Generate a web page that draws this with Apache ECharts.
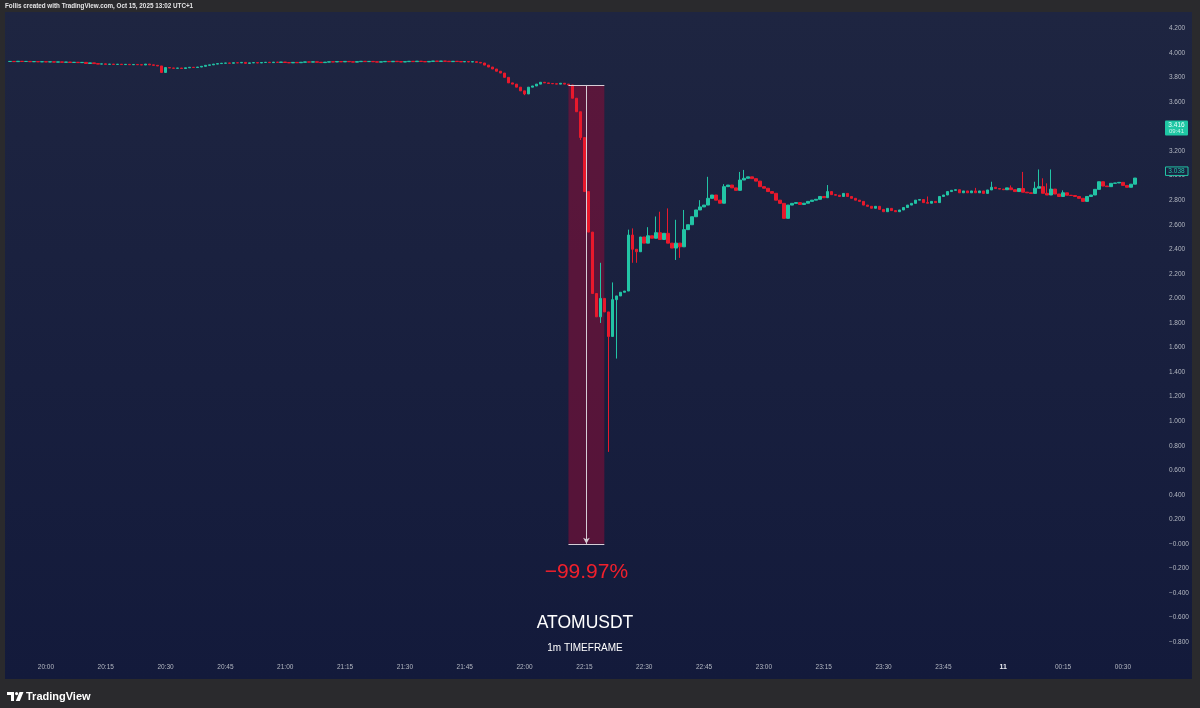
<!DOCTYPE html>
<html><head><meta charset="utf-8">
<script src="https://cdn.jsdelivr.net/npm/echarts@6/dist/echarts.min.js"></script>
<style>
html,body{margin:0;padding:0;background:#2a2a2d;overflow:hidden;}
#wrap{position:relative;width:1200px;height:708px;background:#2a2a2d;}
#panel{position:absolute;left:5px;top:12px;width:1187px;height:667px;background:linear-gradient(180deg,#1e2541 0%,#181f3e 55%,#131a3b 100%);}
#c{position:absolute;left:0;top:0;width:1200px;height:708px;}
</style>
</head><body><div id="wrap"><div id="panel"></div><div id="c"></div></div>
<script>
// ---- data (ATOMUSDT, 1m candles, first candle 19:51) ----
const startTime = "19:51";
const firstOpen = 3.929;
const closes = [
3.930,3.928,3.931,3.929,3.930,3.927,3.929,3.926,3.928,3.925,
3.927,3.924,3.926,3.923,3.925,3.921,3.923,3.920,3.922,3.913,
3.918,3.912,3.908,3.910,3.906,3.908,3.905,3.907,3.904,3.906,
3.903,3.905,3.903,3.901,3.908,3.902,3.898,3.893,3.840,3.880,
3.876,3.874,3.876,3.872,3.878,3.882,3.880,3.884,3.890,3.898,
3.902,3.908,3.912,3.915,3.917,3.915,3.919,3.918,3.922,3.914,
3.918,3.920,3.917,3.921,3.923,3.920,3.924,3.922,3.925,3.921,
3.918,3.922,3.919,3.923,3.926,3.924,3.927,3.923,3.920,3.924,
3.927,3.925,3.929,3.926,3.930,3.927,3.924,3.928,3.931,3.928,
3.930,3.927,3.924,3.927,3.930,3.927,3.931,3.928,3.925,3.928,
3.931,3.928,3.932,3.929,3.926,3.930,3.933,3.930,3.933,3.931,
3.928,3.931,3.929,3.926,3.929,3.925,3.928,3.922,
3.917,3.900,3.884,3.868,3.850,3.835,3.800,3.755,3.745,3.720,3.690,3.665,
3.720,3.730,3.745,3.760,3.755,3.750,3.748,3.745,3.752,3.745,3.738,
3.630,3.520,3.310,2.870,2.540,2.040,1.850,2.000,1.890,1.690,1.990,2.020,2.050,2.060,
2.516,2.400,2.380,2.500,2.450,2.510,2.490,2.535,2.480,2.530,
2.450,2.410,2.450,2.420,2.560,2.600,2.665,2.720,2.745,2.760,
2.815,2.842,2.800,2.775,2.910,2.923,2.900,2.880,2.964,2.978,
2.990,2.975,2.955,2.910,2.897,2.870,2.856,2.800,2.774,2.652,
2.760,2.774,2.780,2.765,2.775,2.790,2.800,2.807,2.830,2.820,
2.870,2.845,2.840,2.830,2.855,2.830,2.815,2.800,2.790,2.760,
2.750,2.734,2.750,2.725,2.706,2.733,2.715,2.706,2.720,2.740,
2.760,2.774,2.800,2.805,2.780,2.775,2.790,2.780,2.830,2.842,
2.870,2.880,2.885,2.860,2.875,2.860,2.875,2.860,2.875,2.855,
2.883,2.905,2.895,2.890,2.885,2.900,2.885,2.870,2.895,2.865,
2.860,2.855,2.897,2.910,2.856,2.842,2.890,2.850,2.830,2.860,
2.840,2.838,2.830,2.815,2.790,2.830,2.842,2.888,2.950,2.915,
2.910,2.937,2.940,2.945,2.920,2.905,2.930,2.980
];
// [candle index, wick extreme]
const upperWicks = [[148,2.29],[151,2.13],[155,2.56],[156,2.57],[160,2.58],[162,2.667],[163,2.706],[165,2.733],[167,2.64],[169,2.72],[173,2.80],[175,2.99],[179,2.93],[183,3.03],[184,3.046],[205,2.923],[230,2.83],[242,2.90],[246,2.95],[251,2.92],[254,3.03],[257,2.95],[258,3.05],[259,2.978],[260,2.937],[261,3.05],[264,2.88]];
const lowerWicks = [[38,3.835],[129,3.655],[143,3.29],[148,1.80],[150,0.75],[152,1.51],[156,2.29],[157,2.29],[167,2.313],[168,2.33]];
// price-range drawing: from candle 22:11 to 22:20, 3.738 -> 0.0011
const rangeStartIdx = 140, rangeEndIdx = 149, rangeTop = 3.738, rangeBottom = 0.0011;
const rangeText = "−99.97%";
const lastPrice = 3.038;
const markPrice = 3.416, markSub = "09:41";
const yTicks = {min:-1.0, max:4.4, step:0.2, shownMin:-0.8, shownMax:4.2};

// ---- build ----
const N = closes.length + 1;
const [sh, sm] = startTime.split(':').map(Number);
const categories = [];
for (let i = 0; i < N; i++) {
  const t = (sh*60 + sm + i) % 1440;
  categories.push(String(Math.floor(t/60)).padStart(2,'0') + ':' + String(t%60).padStart(2,'0'));
}
const up = {}, lo = {};
upperWicks.forEach(([i,v]) => up[i] = v);
lowerWicks.forEach(([i,v]) => lo[i] = v);
const candles = closes.map((c, i) => {
  const o = i === 0 ? firstOpen : closes[i-1];
  let h = Math.max(o, c), l = Math.min(o, c);
  if (up[i] != null) h = Math.max(h, up[i]);
  if (lo[i] != null) l = Math.min(l, lo[i]);
  return [o, c, l, h];
});

const pxPerUnit = 122.8, zeroY = 544;
const gridTop = zeroY - yTicks.max * pxPerUnit;
const gridH = (yTicks.max - yTicks.min) * pxPerUnit;
const bandW = 3.989;
const gridLeft = 8;
const gridW = N * bandW;

const UP = '#22c4a5', DOWN = '#e8192c';
const chart = echarts.init(document.getElementById('c'), null, {renderer:'canvas'});
const fmtPrice = v => {
  if (v > yTicks.shownMax + 1e-6 || v < yTicks.shownMin - 1e-6) return '';
  const r = Math.round(v*1000)/1000;
  if (r <= 0) return '−' + Math.abs(r).toFixed(3);
  return r.toFixed(3);
};
chart.setOption({
  backgroundColor: 'transparent',
  animation: false,
  grid: {left: gridLeft, top: gridTop, width: gridW, height: gridH, containLabel: false},
  xAxis: [{
    type: 'category', data: categories, boundaryGap: true,
    axisLine: {show:false}, axisTick: {show:false}, splitLine: {show:false},
    axisLabel: {
      margin: -3, color: '#b4b8c2', fontSize: 6.5, fontFamily: 'Liberation Sans, Arial, sans-serif',
      interval: (idx, val) => { const p = val.split(':'); return p.length === 2 && (+p[1]) % 15 === 0; },
      formatter: v => v === '00:00' ? '{d|11}' : v,
      rich: {d: {fontWeight: 'bold', color: '#e8eaf0', fontSize: 7, fontFamily: 'Liberation Sans, Arial, sans-serif'}}
    }
  }, {
    type: 'value', min: -0.5, max: N - 0.5, show: false
  }],
  yAxis: [{
    type: 'value', position: 'right', min: yTicks.min, max: yTicks.max, interval: yTicks.step,
    axisLine: {show:false}, axisTick: {show:false}, splitLine: {show:false},
    axisLabel: {margin: 28, color: '#b4b8c2', fontSize: 6.5, fontFamily: 'Liberation Sans, Arial, sans-serif', formatter: fmtPrice}
  }],
  series: [{
    type: 'candlestick', data: candles, xAxisIndex: 0, yAxisIndex: 0, barWidth: 3, z: 2,
    itemStyle: {color: UP, color0: DOWN, borderColor: UP, borderColor0: DOWN, borderWidth: 1}
  }, {
    type: 'line', xAxisIndex: 1, yAxisIndex: 0, data: [], symbol: 'none', z: 3, silent: true,
    markArea: {silent: true, itemStyle: {color: 'rgba(140,12,55,0.55)'},
      data: [[{coord: [rangeStartIdx, rangeTop]}, {coord: [rangeEndIdx, rangeBottom]}]]},
    markLine: {silent: true, symbol: ['none','none'], label: {show:false},
      lineStyle: {color: '#d6cdd6', width: 1, type: 'solid'},
      data: [
        [{coord: [rangeStartIdx, rangeTop]}, {coord: [rangeEndIdx, rangeTop]}],
        [{coord: [rangeStartIdx, rangeBottom]}, {coord: [rangeEndIdx, rangeBottom]}],
        [{coord: [(rangeStartIdx+rangeEndIdx)/2, rangeTop]}, {coord: [(rangeStartIdx+rangeEndIdx)/2, rangeBottom], symbol: 'arrow', symbolSize: [5,6]}]
      ]},
    markPoint: {silent: true, symbol: 'circle', symbolSize: 0,
      data: [{coord: [(rangeStartIdx+rangeEndIdx)/2, rangeBottom - 0.23],
        label: {show: true, position: 'inside', formatter: rangeText, color: '#f0202c', fontSize: 21, fontFamily: 'Liberation Sans, Arial, sans-serif'}}]}
  }]
});

const pyMark = chart.convertToPixel({yAxisIndex: 0}, markPrice);
const pyLast = chart.convertToPixel({yAxisIndex: 0}, lastPrice);
const F = 'Liberation Sans, Arial, sans-serif';
chart.setOption({
  graphic: [
    {type:'text', left: 5, top: 3, z: 100, style: {text: 'Follis created with TradingView.com, Oct 15, 2025 13:02 UTC+1', fill: '#e4e4e6', font: '600 6.3px ' + F}},
    {type:'text', x: 585, y: 623, z: 100, style: {text: 'ATOMUSDT', fill: '#ffffff', font: '17.5px ' + F, align: 'center', verticalAlign: 'middle'}},
    {type:'text', x: 585, y: 648, z: 100, style: {text: '1m TIMEFRAME', fill: '#ffffff', font: '10px ' + F, align: 'center', verticalAlign: 'middle'}},
    {type:'rect', z: 100, shape: {x: 1165, y: pyMark - 4, width: 23, height: 15, r: 1}, style: {fill: '#1fc7a4'}},
    {type:'text', z: 101, x: 1176.5, y: pyMark + 0.5, style: {text: markPrice.toFixed(3), fill: '#e8fff9', font: '6.5px ' + F, align: 'center', verticalAlign: 'middle'}},
    {type:'text', z: 101, x: 1176.5, y: pyMark + 7, style: {text: markSub, fill: '#c9f5ea', font: '6px ' + F, align: 'center', verticalAlign: 'middle'}},
    {type:'rect', z: 100, shape: {x: 1165.5, y: pyLast - 4, width: 22.5, height: 8.5}, style: {fill: '#1a2140', stroke: '#22c4a5', lineWidth: 1}},
    {type:'text', z: 101, x: 1176.5, y: pyLast + 0.3, style: {text: lastPrice.toFixed(3), fill: '#22c4a5', font: '6.5px ' + F, align: 'center', verticalAlign: 'middle'}},
    // TradingView logo
    {type:'group', x: 7, y: 692, z: 100, children: [
      {type:'polygon', shape: {points: [[0,0],[7,0],[7,9],[4,9],[4,3],[0,3]]}, style: {fill: '#ffffff'}},
      {type:'circle', shape: {cx: 9.6, cy: 1.6, r: 1.6}, style: {fill: '#ffffff'}},
      {type:'polygon', shape: {points: [[12.5,0],[16.5,0],[12.8,9],[8.8,9]]}, style: {fill: '#ffffff'}}
    ]},
    {type:'text', left: 26, top: 691, z: 100, style: {text: 'TradingView', fill: '#ffffff', font: 'bold 11px ' + F}}
  ]
});
</script></body></html>
